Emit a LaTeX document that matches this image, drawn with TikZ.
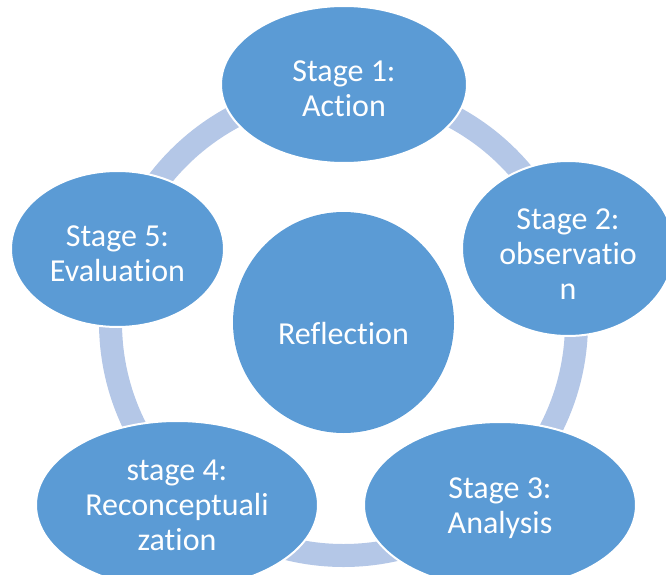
\documentclass[tikz,border=0pt]{standalone}
\usepackage{fontspec}
\setmainfont{Carlito}[Ligatures=NoCommon]
\usepackage{tikz}
\usetikzlibrary{shapes.geometric}
\definecolor{stageblue}{RGB}{91,155,213}
\definecolor{ringblue}{RGB}{180,199,231}
\newcommand{\lift}[1]{\rule{0pt}{#1}} % pushes a label down inside its bubble
\tikzset{
stage/.style={ellipse, fill=stageblue, draw=white, line width=2pt, text=white, align=center, inner sep=0pt, font=\fontsize{32}{35}\selectfont}, % the five stage bubbles
hub/.style={circle, fill=stageblue, text=white, inner sep=0pt, font=\fontsize{32}{35}\selectfont}, % the centre circle
ringline/.style={draw=ringblue, line width=23pt}, % the band running through the stages
}

\begin{document}
\begin{tikzpicture}[x=1pt, y=-1pt]
    \useasboundingbox (0,0) rectangle (666,575);
    % centre and ring
    \node[hub, minimum size=221pt, text height=43pt, text depth=0pt] (refl) at (343.5,322.5) {Reflection};
    \draw[ringline] (refl.center) circle[radius=233pt];
    % stages
    \node[stage, minimum width=246pt, minimum height=157pt] (s1) at (344,84.5) {\lift{30pt}Stage 1:\\Action};
    \node[stage, minimum width=212pt, minimum height=175pt] (s2) at (568,248.5) {\lift{32pt}Stage 2:\\observatio\\n};
    \node[stage, minimum width=272pt, minimum height=166pt] (s3) at (500,505) {\lift{27pt}Stage 3:\\Analysis};
    \node[stage, minimum width=282pt, minimum height=168pt] (s4) at (177,505) {stage 4:\\Reconceptuali\\zation};
    \node[stage, minimum width=213pt, minimum height=156pt] (s5) at (117.5,249) {\lift{31pt}Stage 5:\\Evaluation};
\end{tikzpicture}
\end{document}
